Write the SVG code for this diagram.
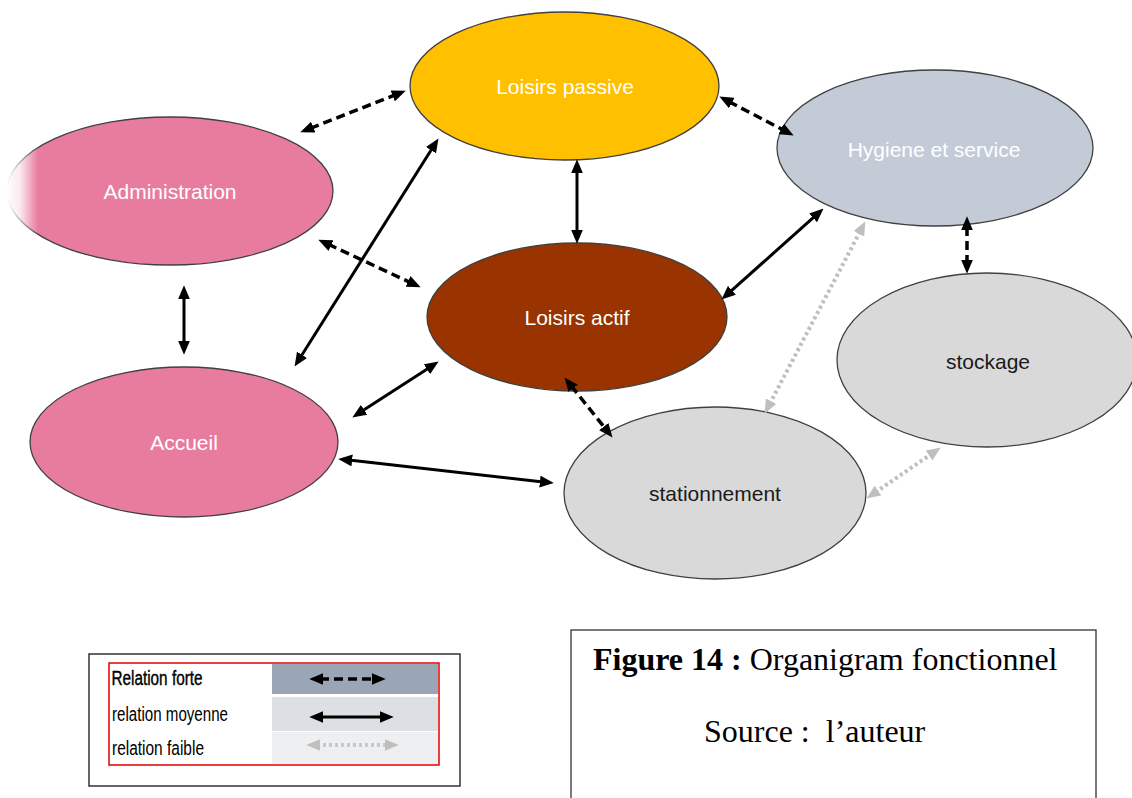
<svg xmlns="http://www.w3.org/2000/svg" width="1132" height="798" viewBox="0 0 1132 798">
<style>
.node{stroke:#404040;stroke-width:1.3}
.lbl{font-family:"Liberation Sans",Arial,sans-serif;font-size:21px;text-anchor:middle}
.w{fill:#ffffff}
.k{fill:#1a1a1a}
.strong{fill:none;stroke:#000;stroke-width:3.5;stroke-dasharray:9 5;marker-start:url(#ak);marker-end:url(#ak)}
.medium{fill:none;stroke:#000;stroke-width:3;marker-start:url(#ak);marker-end:url(#ak)}
.weak{fill:none;stroke:#BFBFBF;stroke-width:4;stroke-dasharray:3 3;marker-start:url(#ag);marker-end:url(#ag)}
.leg{font-family:"Liberation Sans",Arial,sans-serif;font-size:20px;fill:#000}
.cap{font-family:"Liberation Serif","Times New Roman",serif;font-size:32px;fill:#000}
</style>
<defs>
<marker id="ak" markerUnits="userSpaceOnUse" markerWidth="14" markerHeight="12" refX="3" refY="5.5" orient="auto-start-reverse" viewBox="0 0 13 11">
<path d="M0,0 L13,5.5 L0,11 z" fill="#000"/>
</marker>
<marker id="ag" markerUnits="userSpaceOnUse" markerWidth="14" markerHeight="12" refX="3" refY="5.5" orient="auto-start-reverse" viewBox="0 0 13 11">
<path d="M0,0 L13,5.5 L0,11 z" fill="#BFBFBF"/>
</marker>
<linearGradient id="adminFill" x1="0" y1="0" x2="1" y2="0">
<stop offset="0" stop-color="#ffffff"/>
<stop offset="0.04" stop-color="#fbe8ef"/>
<stop offset="0.095" stop-color="#E87C9F"/>
<stop offset="1" stop-color="#E87C9F"/>
</linearGradient>
<linearGradient id="adminStroke" x1="0" y1="0" x2="1" y2="0">
<stop offset="0" stop-color="#ffffff"/>
<stop offset="0.1" stop-color="#404040"/>
<stop offset="1" stop-color="#404040"/>
</linearGradient>
</defs>
<rect width="1132" height="798" fill="#ffffff"/>

<g id="node-loisirs-passive">
<ellipse class="node" cx="564.5" cy="86" rx="154.5" ry="74" fill="#FFC000"/>
<text class="lbl w" x="565" y="94">Loisirs passive</text>
</g>
<g id="node-administration">
<ellipse cx="170" cy="191" rx="163" ry="74" fill="url(#adminFill)" stroke="url(#adminStroke)" stroke-width="1.3"/>
<text class="lbl w" x="170" y="199">Administration</text>
</g>
<g id="node-hygiene">
<ellipse class="node" cx="935" cy="148" rx="158" ry="78" fill="#C3CBD6"/>
<text class="lbl w" x="934" y="157">Hygiene et service</text>
</g>
<g id="node-loisirs-actif">
<ellipse class="node" cx="577" cy="317" rx="150" ry="74" fill="#993300"/>
<text class="lbl w" x="577" y="325">Loisirs actif</text>
</g>
<g id="node-accueil">
<ellipse class="node" cx="184" cy="442" rx="154" ry="75" fill="#E87C9F"/>
<text class="lbl w" x="184" y="450">Accueil</text>
</g>
<g id="node-stockage">
<ellipse class="node" cx="987" cy="360" rx="150" ry="87" fill="#D9D9D9"/>
<text class="lbl k" x="988" y="369">stockage</text>
</g>
<g id="node-stationnement">
<ellipse class="node" cx="715" cy="493" rx="151" ry="86" fill="#D9D9D9"/>
<text class="lbl k" x="715" y="501">stationnement</text>
</g>

<g id="connectors">
<line class="strong" x1="310.3" y1="128.3" x2="395.7" y2="94.7"/>
<line class="strong" x1="328.1" y1="244.2" x2="410.9" y2="282.8"/>
<line class="medium" x1="300.3" y1="357.5" x2="432.7" y2="147.5"/>
<line class="medium" x1="577" y1="170" x2="577" y2="233"/>
<line class="medium" x1="184" y1="296" x2="184" y2="344"/>
<line class="medium" x1="361.4" y1="411.6" x2="429.6" y2="367.4"/>
<line class="medium" x1="348.9" y1="460.1" x2="543.1" y2="481.9"/>
<line class="strong" x1="571.2" y1="385.8" x2="605.8" y2="429.2"/>
<line class="strong" x1="728.9" y1="101.6" x2="784.1" y2="130.4"/>
<line class="medium" x1="729.5" y1="292.4" x2="815.5" y2="215.7"/>
<line class="strong" x1="967" y1="227" x2="967" y2="263"/>
<line class="weak" x1="769.6" y1="404.1" x2="860.4" y2="230.9"/>
<line class="weak" x1="875.3" y1="492.4" x2="931.8" y2="453.7"/>
</g>

<g id="legend">
<rect x="89" y="654" width="371" height="132" fill="#ffffff" stroke="#333" stroke-width="1.5"/>
<rect x="272" y="664" width="166" height="30" fill="#9AA5B5"/>
<rect x="272" y="697" width="166" height="34" fill="#DCDFE3"/>
<rect x="272" y="732" width="166" height="32" fill="#EEEFF1"/>
<rect x="109" y="663" width="330" height="102" fill="none" stroke="#E00000" stroke-width="1.5"/>
<text class="leg" x="111.5" y="685" textLength="91" lengthAdjust="spacingAndGlyphs" stroke="#000" stroke-width="0.4">Relation forte</text>
<text class="leg" x="112" y="721" textLength="116" lengthAdjust="spacingAndGlyphs">relation moyenne</text>
<text class="leg" x="112" y="755" textLength="92" lengthAdjust="spacingAndGlyphs">relation faible</text>
<line class="strong" x1="320" y1="679" x2="375" y2="679"/>
<line class="medium" x1="320" y1="717" x2="383" y2="717"/>
<line class="weak" x1="317" y1="745" x2="388" y2="745" style="stroke:#C8C8C8"/>
</g>

<g id="caption">
<rect x="571" y="630" width="525" height="180" fill="#ffffff" stroke="#333" stroke-width="1.3"/>
<text class="cap" x="593" y="670"><tspan font-weight="bold">Figure 14 :</tspan> Organigram fonctionnel</text>
<text class="cap" x="704" y="742" xml:space="preserve">Source :  l’auteur</text>
</g>
</svg>
